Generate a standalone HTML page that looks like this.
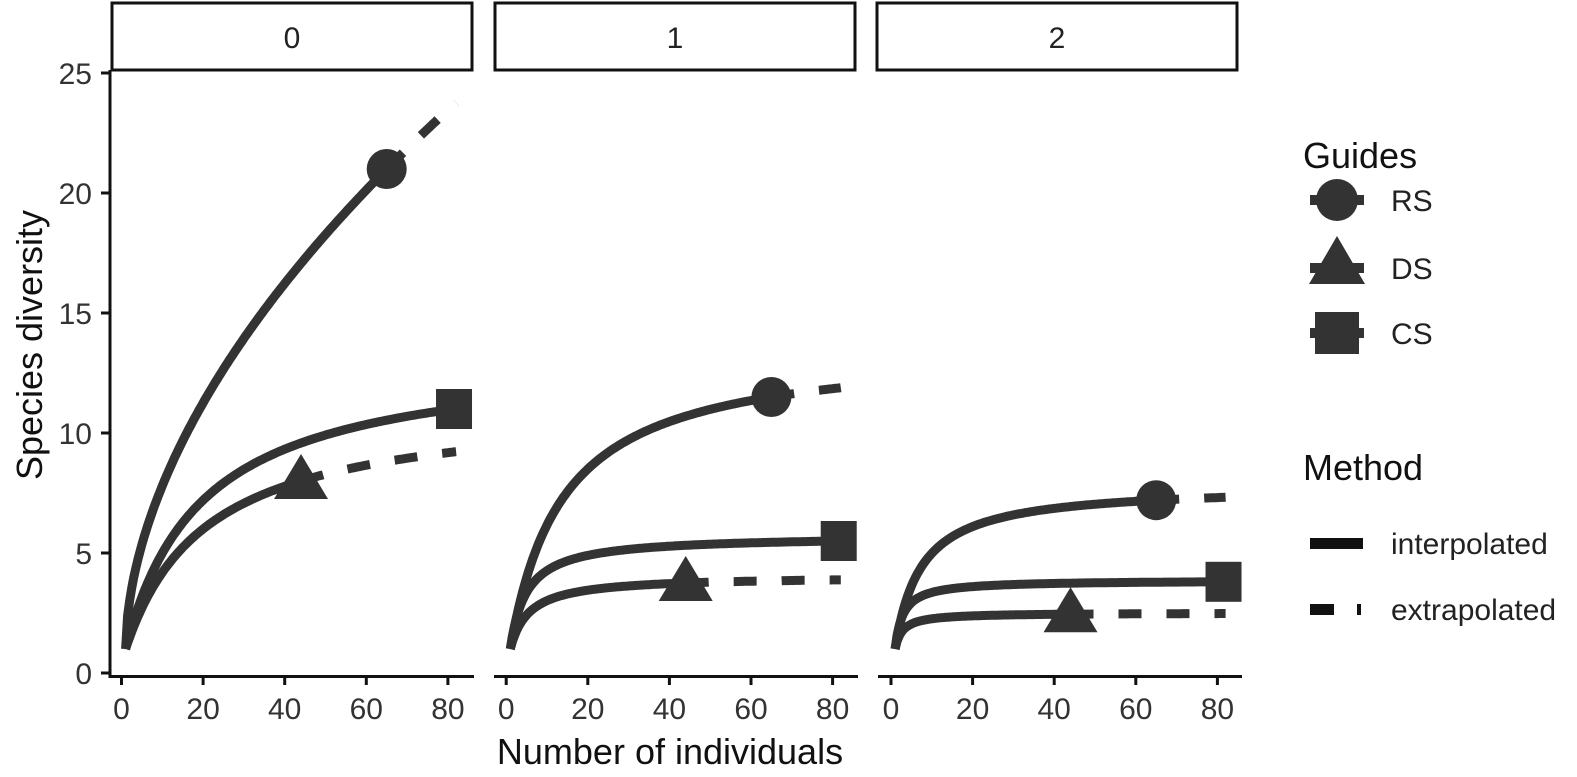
<!DOCTYPE html>
<html><head><meta charset="utf-8"><style>
html,body{margin:0;padding:0;background:#fff;}
svg{display:block;font-family:"Liberation Sans",Arial,sans-serif;}
</style></head><body>
<svg id="s" width="1577" height="777" viewBox="0 0 1577 777" xmlns="http://www.w3.org/2000/svg">
<rect width="1577" height="777" fill="#fff"/>
<g id="g"></g>
<g fill="#fff" stroke="#111" stroke-width="3">
<rect x="112" y="3" width="360" height="67"/>
<rect x="495" y="3" width="360" height="67"/>
<rect x="877" y="3" width="360" height="67"/>
</g>
<g font-size="30" fill="#222" text-anchor="middle">
<text x="292" y="48">0</text><text x="675" y="48">1</text><text x="1057" y="48">2</text>
</g>
<line x1="110" y1="70" x2="110" y2="678" stroke="#111" stroke-width="3"/>
<g stroke="#111" stroke-width="3">
<line x1="101" y1="73" x2="110" y2="73"/><line x1="101" y1="193" x2="110" y2="193"/>
<line x1="101" y1="313" x2="110" y2="313"/><line x1="101" y1="433" x2="110" y2="433"/>
<line x1="101" y1="553" x2="110" y2="553"/><line x1="101" y1="673" x2="110" y2="673"/>
</g>
<g font-size="30" fill="#333" text-anchor="end">
<text x="92" y="84">25</text><text x="92" y="204">20</text><text x="92" y="324">15</text>
<text x="92" y="444">10</text><text x="92" y="564">5</text><text x="92" y="684">0</text>
</g>
<text transform="translate(42,345) rotate(-90)" font-size="36" fill="#111" text-anchor="middle">Species diversity</text>
<text x="670" y="764" font-size="36" fill="#111" text-anchor="middle">Number of individuals</text>
<text x="1303" y="168" font-size="36" fill="#111">Guides</text>
<g fill="#333">
<circle cx="1337" cy="200" r="21"/><rect x="1310" y="195" width="54" height="10"/>
<polygon points="1337,236 1365,284 1309,284"/><rect x="1310" y="263" width="54" height="10"/>
<rect x="1315" y="312" width="44" height="42"/><rect x="1310" y="328" width="54" height="10"/>
</g>
<g font-size="30" fill="#222">
<text x="1391" y="211">RS</text><text x="1391" y="279">DS</text><text x="1391" y="344">CS</text>
</g>
<text x="1303" y="480" font-size="36" fill="#111">Method</text>
<rect x="1310" y="538" width="53" height="11" fill="#111"/>
<rect x="1310" y="604" width="24" height="11" fill="#111"/>
<rect x="1357" y="604" width="4" height="11" fill="#111"/>
<g font-size="30" fill="#222">
<text x="1391" y="554">interpolated</text><text x="1391" y="620">extrapolated</text>
</g>
</svg>
<script>
const g=document.getElementById('g');const NS='http://www.w3.org/2000/svg';
function el(t,a){const e=document.createElementNS(NS,t);for(const k in a)e.setAttribute(k,a[k]);g.appendChild(e);return e;}
const x0=[121.5,506.2,891];const sx=4.08;const Y=v=>673-24*v;
for(let p=0;p<3;p++){const L=110+p*384;
el('line',{x1:L,y1:676.5,x2:L+364,y2:676.5,stroke:'#111','stroke-width':3});
for(let k=0;k<=4;k++){const x=x0[p]+k*20*sx;el('line',{x1:x,y1:677,x2:x,y2:685,stroke:'#111','stroke-width':3});
const t=el('text',{x:x,y:719,'font-size':30,fill:'#333','text-anchor':'middle'});t.textContent=k*20;}}
function pw(nobs,vobs,p){return n=>1+(vobs-1)*Math.pow((n-1)/(nobs-1),p);}
function mm(nobs,vobs,v20){const m2=nobs-1,r=(v20-1)/(vobs-1);const B=19*m2*(1-r)/(r*m2-19);const A=(vobs-1)*(B+m2)/m2;return n=>1+A*(n-1)/(B+n-1);}
const curves=[
[0,'c',65,21,pw(65,21,0.55)],
[0,'s',81.5,11,mm(81.5,11,7.2)],
[0,'t',44,8,mm(44,8,6.0)],
[1,'c',65,11.5,mm(65,11.5,8.5)],
[1,'s',81.5,5.5,mm(81.5,5.5,4.9)],
[1,'t',44,3.75,mm(44,3.75,3.45)],
[2,'c',65,7.2,mm(65,7.2,6.1)],
[2,'s',81.5,3.8,mm(81.5,3.8,3.6)],
[2,'t',44,2.45,mm(44,2.45,2.38)]];
for(const [p,sh,no,vo,f] of curves){
 const X=n=>x0[p]+n*sx;
 let d='';for(let n=1;n<=no;n+=0.5){d+=(d?'L':'M')+X(n).toFixed(1)+','+Y(f(n)).toFixed(1);}
 el('path',{d:d,fill:'none',stroke:'#333','stroke-width':9,'stroke-linecap':'butt'});
 if(no<80){let e='';for(let n=no;n<=82;n+=0.5){e+=(e?'L':'M')+X(n).toFixed(1)+','+Y(f(n)).toFixed(1);}
  el('path',{d:e,fill:'none',stroke:'#333','stroke-width':9,'stroke-dasharray':'23 25'});}
 const cx=X(no),cy=Y(vo);
 if(sh=='c')el('circle',{cx:cx,cy:cy,r:20,fill:'#333'});
 if(sh=='s')el('rect',{x:cx-18,y:cy-20,width:36,height:40,fill:'#333'});
 if(sh=='t')el('polygon',{points:`${cx},${cy-27} ${cx+27},${cy+18} ${cx-27},${cy+18}`,fill:'#333'});
}
</script>
</body></html>
